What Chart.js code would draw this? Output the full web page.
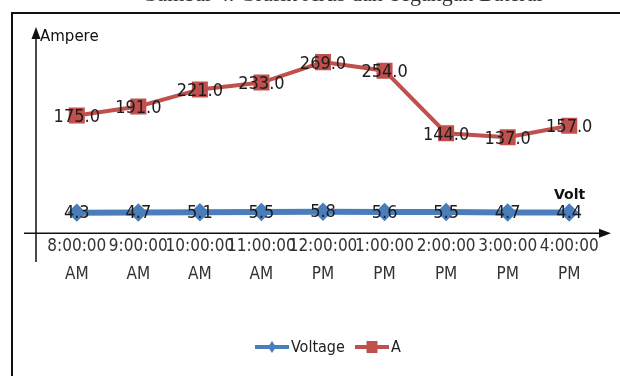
<!DOCTYPE html>
<html>
<head>
<meta charset="utf-8">
<script src="https://cdn.jsdelivr.net/npm/chart.js@4.4.1/dist/chart.umd.min.js"></script>
<style>
  html, body { margin: 0; padding: 0; background: #fff; }
  #wrap { width: 620px; height: 376px; position: relative; }
</style>
</head>
<body>
<div id="wrap"><canvas id="chart" width="620" height="376"></canvas></div>
<script>
const times = [
  ["8:00:00", "AM"], ["9:00:00", "AM"], ["10:00:00", "AM"], ["11:00:00", "AM"],
  ["12:00:00", "PM"], ["1:00:00", "PM"], ["2:00:00", "PM"], ["3:00:00", "PM"], ["4:00:00", "PM"]
];
const voltage = [4.3, 4.7, 5.1, 5.5, 5.8, 5.6, 5.5, 4.7, 4.4];
const current = [175, 191, 221, 233, 269, 254, 144, 137, 157];
const voltageText = ["4.3", "4.7", "5.1", "5.5", "5.8", "5.6", "5.5", "4.7", "4.4"];

const BLUE = "#4a7ebb";
const RED = "#c0504d";
const NARROW = "'DejaVu Sans Condensed', 'Liberation Sans Narrow', 'Liberation Sans', sans-serif";

// frame, hand drawn axes, point labels and legend
const decorations = {
  id: "decorations",
  beforeDraw(chart) {
    const ctx = chart.ctx;
    ctx.save();
    ctx.fillStyle = "#fff";
    ctx.fillRect(0, 0, chart.width, chart.height);
    ctx.restore();
  },
  afterDatasetsDraw(chart) {
    const ctx = chart.ctx;
    const y = chart.scales.y;
    ctx.save();

    // cut-off caption above the frame
    ctx.fillStyle = "#333";
    ctx.font = "22px 'Liberation Serif', serif";
    ctx.textAlign = "center";
    ctx.textBaseline = "alphabetic";
    ctx.fillText("Gambar 4. Grafik Arus dan Tegangan Baterai", 342, 1);

    // frame
    ctx.strokeStyle = "#111";
    ctx.lineWidth = 2;
    ctx.beginPath();
    ctx.moveTo(12, 400);
    ctx.lineTo(12, 13);
    ctx.lineTo(640, 13);
    ctx.stroke();

    // axes with arrows
    const axisY = y.getPixelForValue(-32);
    ctx.lineWidth = 1.5;
    ctx.beginPath();
    ctx.moveTo(36, 262);
    ctx.lineTo(36, 36);
    ctx.moveTo(24, axisY);
    ctx.lineTo(602, axisY);
    ctx.stroke();
    ctx.fillStyle = "#111";
    ctx.beginPath();
    ctx.moveTo(36, 27);
    ctx.lineTo(31.5, 39);
    ctx.lineTo(40.5, 39);
    ctx.closePath();
    ctx.fill();
    ctx.beginPath();
    ctx.moveTo(611, axisY);
    ctx.lineTo(599, axisY - 4.5);
    ctx.lineTo(599, axisY + 4.5);
    ctx.closePath();
    ctx.fill();

    ctx.font = "15px 'DejaVu Sans', sans-serif";
    ctx.textAlign = "left";
    ctx.textBaseline = "middle";
    ctx.fillText("Ampere", 40, 37);
    ctx.font = "bold 14px 'DejaVu Sans', sans-serif";
    ctx.fillText("Volt", 554, 195);

    // point labels
    ctx.font = "18px " + NARROW;
    ctx.textAlign = "center";
    ctx.fillStyle = "#1c1c1c";
    chart.getDatasetMeta(1).data.forEach((pt, i) => {
      ctx.fillText(current[i].toFixed(1), pt.x, pt.y + 2);
    });
    chart.getDatasetMeta(0).data.forEach((pt, i) => {
      ctx.fillText(voltageText[i], pt.x, pt.y + 1);
    });

    // legend
    const items = [
      { label: chart.data.datasets[0].label, color: BLUE, style: "diamond", x: 255 },
      { label: chart.data.datasets[1].label, color: RED, style: "square", x: 355 }
    ];
    const ly = 347;
    items.forEach(it => {
      ctx.strokeStyle = it.color;
      ctx.fillStyle = it.color;
      ctx.lineWidth = 4;
      ctx.beginPath();
      ctx.moveTo(it.x, ly);
      ctx.lineTo(it.x + 34, ly);
      ctx.stroke();
      const cx = it.x + 17;
      ctx.beginPath();
      if (it.style === "diamond") {
        ctx.moveTo(cx, ly - 6);
        ctx.lineTo(cx + 4, ly);
        ctx.lineTo(cx, ly + 6);
        ctx.lineTo(cx - 4, ly);
      } else {
        ctx.rect(cx - 5.5, ly - 6, 11, 12);
      }
      ctx.closePath();
      ctx.fill();
      ctx.fillStyle = "#222";
      ctx.font = "16px " + NARROW;
      ctx.textAlign = "left";
      ctx.textBaseline = "middle";
      ctx.fillText(it.label, it.x + 36, ly + 1);
    });
    ctx.restore();
  }
};

new Chart(document.getElementById("chart"), {
  type: "line",
  data: {
    labels: times,
    datasets: [
      {
        label: "Voltage",
        data: voltage,
        borderColor: BLUE,
        backgroundColor: BLUE,
        borderWidth: 6,
        pointStyle: "rectRot",
        pointRadius: 5,
        pointHoverRadius: 5,
        tension: 0
      },
      {
        label: "A",
        data: current,
        borderColor: RED,
        backgroundColor: RED,
        borderWidth: 4,
        pointStyle: "rect",
        pointRadius: 8.5,
        pointHoverRadius: 8.5,
        tension: 0
      }
    ]
  },
  options: {
    responsive: false,
    animation: false,
    events: [],
    layout: { padding: { left: 46, right: 20, top: 44.5, bottom: 77 } },
    scales: {
      x: {
        offset: true,
        grid: { display: false, drawTicks: false },
        border: { display: false },
        ticks: {
          color: "#333",
          padding: 10.5,
          maxRotation: 0,
          autoSkip: false,
          font: { family: NARROW, size: 17, lineHeight: 1.65 }
        }
      },
      y: {
        display: false,
        min: -12,
        max: 300
      }
    },
    plugins: {
      legend: { display: false },
      tooltip: { enabled: false }
    }
  },
  plugins: [decorations]
});
</script>
</body>
</html>
